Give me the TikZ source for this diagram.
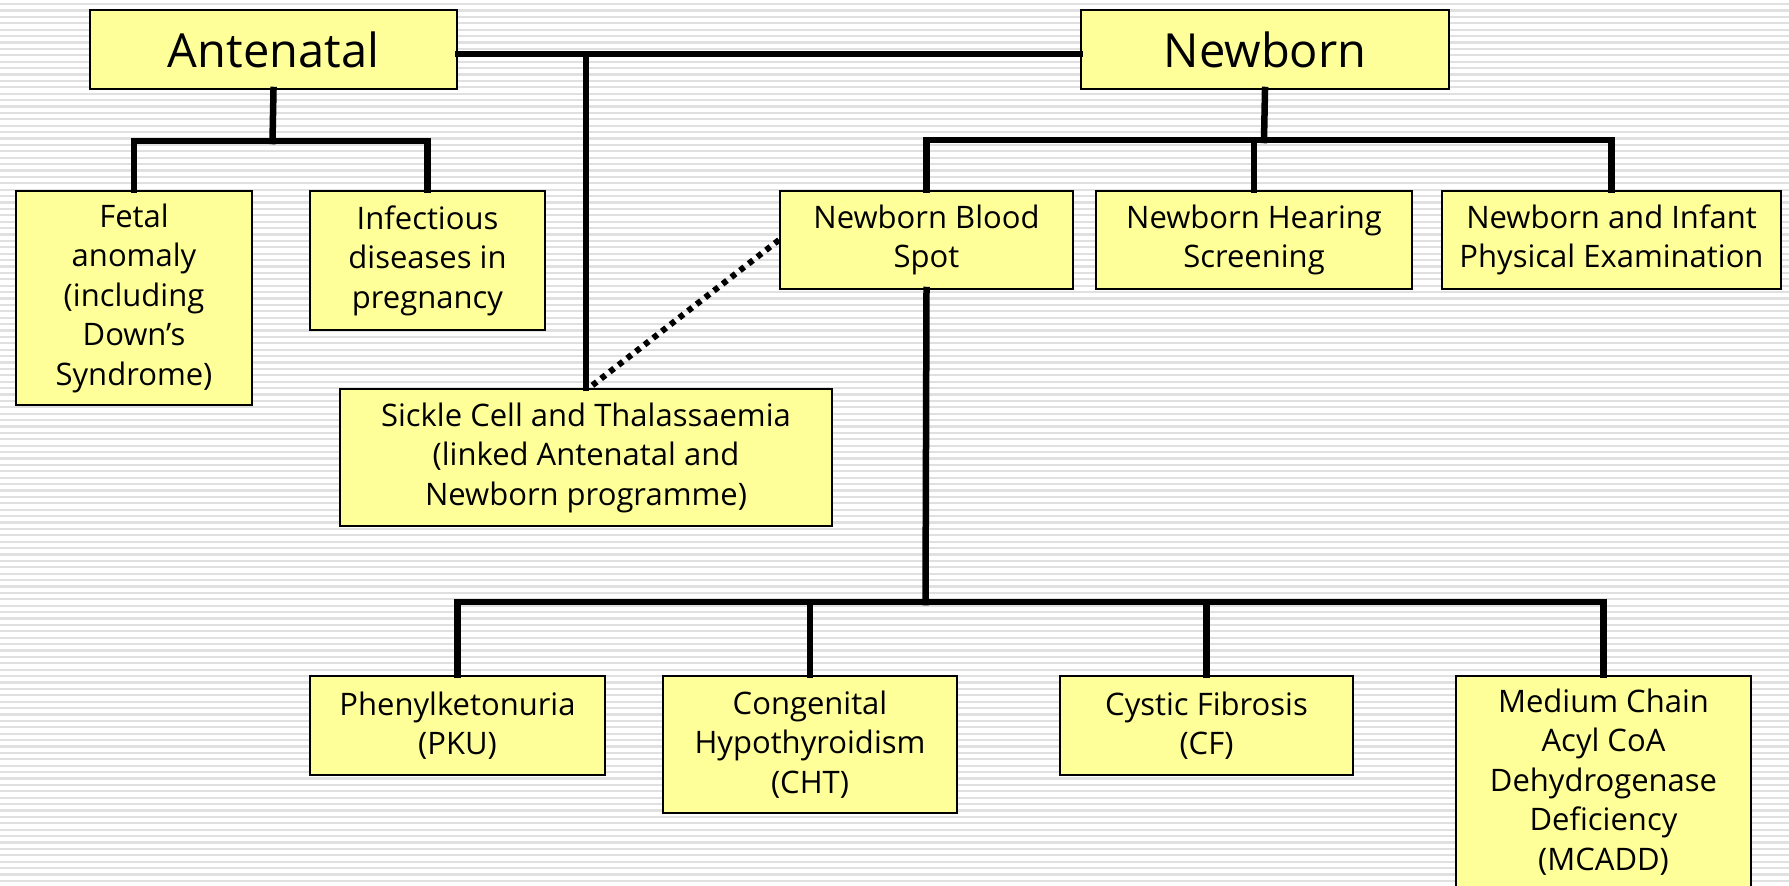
\documentclass[tikz,border=0pt]{standalone}
\usepackage{fontspec}
\setmainfont{Open Sans}
\begin{document}
\begin{tikzpicture}[x=1pt,y=-1pt,
  box/.style={draw=black,line width=2pt,fill=boxfill,anchor=north west,align=center,inner sep=0pt,
    font={\fontsize{31}{39.5}\selectfont}},
  titlebox/.style={box,font={\fontsize{47}{52}\selectfont}},
  conn/.style={line width=6.5pt,line cap=rect},
  dotconn/.style={line width=6pt,dash pattern=on 5.5pt off 5.5pt}]
\definecolor{boxfill}{RGB}{255,255,153}
\definecolor{stripe}{RGB}{224,224,224}
\useasboundingbox (0,0) rectangle (1789,886);
\fill[white] (0,0) rectangle (1789,886);
\foreach \i in {0,...,139} \fill[stripe] (0,{\i*6.4+3}) rectangle (1789,{\i*6.4+5.2});
% nodes
\node[titlebox,minimum width=367pt,minimum height=79pt] (ante) at (89,9) {Antenatal};
\node[titlebox,minimum width=368pt,minimum height=79pt] (newb) at (1080,9) {Newborn};
\node[box,minimum width=236pt,minimum height=214pt] (fetal) at (15,190) {Fetal\\anomaly\\(including\\Down’s\\Syndrome)};
\node[box,minimum width=235pt,minimum height=139pt] (infect) at (309,190) {Infectious\\diseases in\\pregnancy};
\node[box,minimum width=492pt,minimum height=137pt] (sickle) at (339,388) {Sickle Cell and Thalassaemia\\(linked Antenatal and\\Newborn programme)};
\node[box,minimum width=293pt,minimum height=98pt] (blood) at (779,190) {Newborn Blood\\Spot};
\node[box,minimum width=316pt,minimum height=98pt] (hear) at (1095,190) {Newborn Hearing\\Screening};
\node[box,minimum width=339pt,minimum height=98pt] (phys) at (1441,190) {Newborn and Infant\\Physical Examination};
\node[box,minimum width=295pt,minimum height=99pt] (pku) at (309,675) {Phenylketonuria\\(PKU)};
\node[box,minimum width=294pt,minimum height=137pt] (cht) at (662,675) {Congenital\\Hypothyroidism\\(CHT)};
\node[box,minimum width=293pt,minimum height=99pt] (cf) at (1059,675) {Cystic Fibrosis\\(CF)};
\node[box,minimum width=295pt,minimum height=212pt] (mcadd) at (1455,675) {Medium Chain\\Acyl CoA\\Dehydrogenase\\Deficiency\\(MCADD)};
% bus coordinates
\coordinate (tbus) at (585,54);
\coordinate (abus) at (272.5,141);
\coordinate (nbus) at (1264,140);
\coordinate (bbus) at (925.5,602);
% connectors
\draw[conn] (ante.east |- tbus) -- (newb.west |- tbus);
\draw[conn] (sickle.north) -- (sickle.north |- tbus);
\draw[conn] (ante.south) -- (abus);
\draw[conn] (fetal.north) |- (abus) -| (infect.north);
\draw[conn] (newb.south) -- (nbus);
\draw[conn] (blood.north) |- (nbus) -| (phys.north);
\draw[conn] (hear.north) -- (hear.north |- nbus);
\draw[conn] (blood.south) -- (bbus);
\draw[conn] (pku.north) |- (bbus) -| (mcadd.north);
\draw[conn] (cht.north) -- (cht.north |- bbus);
\draw[conn] (cf.north) -- (cf.north |- bbus);
\draw[dotconn] (blood.west) -- ([xshift=3pt]sickle.north);
\end{tikzpicture}
\end{document}
